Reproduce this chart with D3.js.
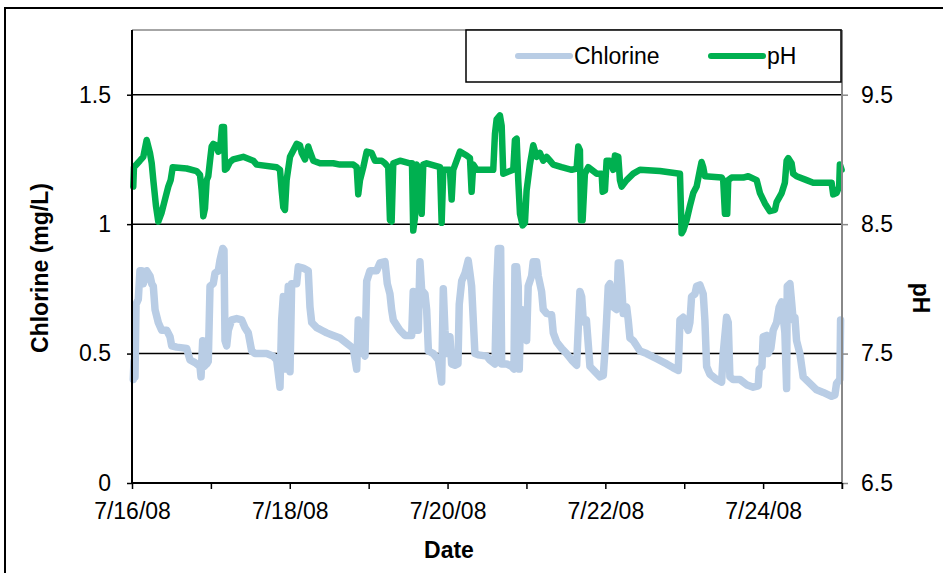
<!DOCTYPE html>
<meta charset="utf-8">
<style>
body { margin: 0; background: #fff; }
text { font-family: "Liberation Sans", Arial, sans-serif; fill: #000; }
</style>
<body>
<script src="https://d3js.org/d3.v7.min.js"></script>
<script>

// readings, days after 7/16/08 00:00
var phDay = [0.016,0.025,0.10,0.143,0.186,0.207,0.228,0.25,0.27,0.304,0.333,0.376,0.418,0.46,0.49,0.516,0.693,0.82,0.862,0.883,0.904,0.925,0.947,0.967,0.989,1.01,1.03,1.065,1.094,1.115,1.14,1.166,1.179,1.20,1.242,1.284,1.41,1.537,1.58,1.834,1.876,1.897,1.918,1.939,1.96,2.003,2.087,2.129,2.151,2.193,2.234,2.256,2.298,2.383,2.551,2.636,2.805,2.848,2.868,2.89,2.932,2.975,3.038,3.08,3.165,3.207,3.248,3.27,3.291,3.312,3.397,3.523,3.549,3.565,3.587,3.609,3.65,3.672,3.692,3.735,3.904,3.925,3.946,4.03,4.052,4.072,4.157,4.242,4.284,4.305,4.326,4.369,4.579,4.601,4.622,4.664,4.686,4.706,4.833,4.854,4.876,4.896,4.918,4.952,4.981,5.002,5.044,5.086,5.129,5.171,5.213,5.256,5.298,5.34,5.446,5.573,5.636,5.657,5.678,5.691,5.712,5.741,5.783,5.89,5.953,5.966,5.995,6.016,6.058,6.1,6.122,6.164,6.185,6.207,6.27,6.354,6.439,6.692,6.946,6.967,6.987,7.03,7.072,7.114,7.157,7.199,7.22,7.241,7.262,7.474,7.494,7.516,7.545,7.558,7.601,7.748,7.811,7.918,7.96,8.023,8.086,8.15,8.171,8.235,8.276,8.298,8.318,8.361,8.381,8.424,8.551,8.635,8.868,8.888,8.931,8.964,8.973,8.995];
var phVal = [8.79,8.94,8.99,9.02,9.15,9.10,9.05,8.97,8.84,8.64,8.52,8.59,8.69,8.79,8.84,8.94,8.93,8.91,8.88,8.76,8.56,8.62,8.84,8.87,8.99,9.10,9.12,9.11,9.06,9.07,9.25,9.25,8.92,8.93,8.98,9.00,9.02,8.99,8.96,8.94,8.92,8.76,8.63,8.61,8.84,9.02,9.12,9.11,9.05,9.00,9.10,9.06,8.99,8.97,8.97,8.96,8.96,8.94,8.73,8.84,8.94,9.06,9.05,8.99,8.99,8.97,8.94,8.53,8.52,8.97,8.99,8.97,8.97,8.45,8.55,8.96,8.92,8.58,8.96,8.97,8.94,8.51,8.92,8.92,8.69,8.92,9.06,9.03,9.01,8.75,8.96,8.92,8.92,9.20,9.31,9.34,9.26,8.89,8.92,9.15,9.16,8.84,8.58,8.49,8.51,8.76,8.96,9.11,9.02,9.05,8.99,9.02,8.99,8.96,8.94,8.92,8.93,9.10,9.07,8.53,8.53,8.89,8.94,8.89,8.89,8.75,8.76,8.99,8.99,8.92,9.03,9.02,8.84,8.79,8.84,8.89,8.92,8.91,8.89,8.43,8.45,8.53,8.64,8.74,8.79,8.92,8.98,8.94,8.87,8.86,8.84,8.58,8.58,8.84,8.86,8.86,8.87,8.84,8.74,8.66,8.60,8.61,8.67,8.74,8.82,8.99,9.01,8.97,8.89,8.87,8.84,8.82,8.82,8.73,8.74,8.79,8.96,8.92];

var clDay = [0.016,0.025,0.038,0.051,0.08,0.101,0.123,0.143,0.186,0.228,0.25,0.27,0.292,0.333,0.376,0.44,0.482,0.503,0.567,0.693,0.735,0.798,0.862,0.875,0.896,0.913,0.947,0.967,0.989,1.03,1.052,1.094,1.115,1.15,1.166,1.179,1.20,1.221,1.264,1.327,1.39,1.432,1.474,1.517,1.559,1.707,1.791,1.834,1.876,1.897,1.918,1.939,1.96,1.981,2.003,2.024,2.087,2.108,2.171,2.234,2.256,2.278,2.341,2.404,2.468,2.551,2.636,2.721,2.805,2.848,2.868,2.89,2.932,2.953,2.975,3.017,3.101,3.143,3.207,3.236,3.27,3.291,3.312,3.375,3.397,3.46,3.545,3.565,3.587,3.629,3.65,3.672,3.714,3.735,3.757,3.82,3.884,3.925,3.946,3.967,3.989,4.03,4.052,4.094,4.132,4.148,4.179,4.221,4.262,4.284,4.305,4.326,4.347,4.389,4.496,4.537,4.601,4.622,4.643,4.673,4.686,4.749,4.813,4.842,4.854,4.876,4.896,4.909,4.924,4.936,4.981,5.002,5.022,5.066,5.086,5.129,5.15,5.192,5.213,5.256,5.319,5.34,5.383,5.446,5.509,5.573,5.636,5.657,5.678,5.70,5.72,5.74,5.76,5.78,5.805,5.868,5.932,5.974,5.995,6.016,6.037,6.058,6.1,6.143,6.164,6.185,6.207,6.227,6.27,6.29,6.312,6.354,6.397,6.439,6.524,6.651,6.777,6.861,6.924,6.946,6.987,7.05,7.072,7.093,7.136,7.157,7.199,7.241,7.262,7.284,7.326,7.41,7.474,7.494,7.537,7.558,7.579,7.62,7.706,7.79,7.875,7.938,7.951,7.985,8.001,8.044,8.064,8.098,8.128,8.171,8.204,8.235,8.255,8.276,8.298,8.306,8.34,8.361,8.381,8.403,8.424,8.466,8.508,8.593,8.677,8.762,8.868,8.91,8.931,8.973,8.982];
var clVal = [0.40,0.47,0.41,0.69,0.71,0.82,0.82,0.77,0.82,0.80,0.77,0.76,0.67,0.62,0.59,0.59,0.565,0.53,0.525,0.52,0.475,0.465,0.45,0.41,0.55,0.45,0.46,0.47,0.76,0.77,0.81,0.82,0.86,0.906,0.90,0.55,0.53,0.59,0.63,0.635,0.63,0.60,0.58,0.51,0.50,0.50,0.49,0.475,0.37,0.63,0.72,0.44,0.63,0.76,0.43,0.77,0.77,0.835,0.83,0.82,0.68,0.62,0.60,0.59,0.58,0.57,0.56,0.54,0.52,0.44,0.63,0.50,0.51,0.49,0.78,0.82,0.82,0.85,0.855,0.77,0.73,0.67,0.63,0.60,0.59,0.57,0.57,0.74,0.59,0.59,0.855,0.745,0.73,0.67,0.51,0.50,0.475,0.39,0.75,0.59,0.50,0.565,0.46,0.455,0.46,0.69,0.78,0.81,0.86,0.81,0.76,0.63,0.50,0.495,0.49,0.475,0.46,0.76,0.906,0.906,0.46,0.46,0.45,0.44,0.835,0.835,0.76,0.44,0.63,0.67,0.565,0.55,0.76,0.80,0.855,0.855,0.80,0.74,0.67,0.655,0.65,0.58,0.545,0.52,0.50,0.475,0.455,0.60,0.74,0.72,0.63,0.62,0.63,0.55,0.45,0.43,0.41,0.415,0.51,0.63,0.76,0.77,0.68,0.67,0.85,0.85,0.76,0.655,0.68,0.63,0.56,0.55,0.53,0.51,0.50,0.48,0.46,0.445,0.435,0.63,0.64,0.59,0.62,0.72,0.73,0.76,0.765,0.73,0.63,0.45,0.42,0.40,0.39,0.50,0.64,0.62,0.41,0.40,0.40,0.38,0.37,0.375,0.44,0.45,0.565,0.57,0.50,0.52,0.59,0.62,0.68,0.70,0.64,0.58,0.365,0.76,0.77,0.70,0.63,0.64,0.55,0.50,0.41,0.385,0.36,0.35,0.335,0.34,0.385,0.40,0.63];

var leftTicks = [0, 0.5, 1, 1.5];
var rightTicks = [6.5, 7.5, 8.5, 9.5];
var seriesNames = ["Chlorine", "pH"];
var seriesColors = ["#b9cde5", "#00b050"];

var W = 943, H = 573;
var margin = {top: 30, right: 101, bottom: 90, left: 132},
    width = 842 - margin.left,
    height = 483 - margin.top;

var t0 = new Date(2008, 6, 16), t1 = new Date(2008, 6, 25);
function toDate(d) { return new Date(t0.getTime() + d * 864e5); }

var x = d3.scaleTime().domain([t0, t1]).range([0, width]);
var y = d3.scaleLinear().domain([0, 1.75]).range([height, 0]);
var y2 = d3.scaleLinear().domain([6.5, 10]).range([height, 0]);

var svg = d3.select("body").append("svg")
    .attr("width", W)
    .attr("height", H);

// outer chart frame
svg.append("rect")
    .attr("x", 5).attr("y", 8)
    .attr("width", W + 20).attr("height", H + 20)
    .attr("fill", "none").attr("stroke", "#000").attr("stroke-width", 2);

var g = svg.append("g")
    .attr("transform", "translate(" + margin.left + "," + margin.top + ")");

// plot area top border
g.append("line")
    .attr("x1", 0).attr("x2", width).attr("y1", 0).attr("y2", 0)
    .attr("stroke", "#888").attr("stroke-width", 1.5);

// gridlines
g.selectAll(".grid").data(leftTicks.slice(1))
  .enter().append("line")
    .attr("class", "grid")
    .attr("x1", 0).attr("x2", width)
    .attr("y1", function(d) { return y(d); })
    .attr("y2", function(d) { return y(d); })
    .attr("stroke", "#000").attr("stroke-width", 1.5);

// series
var clData = clDay.map(function(d, i) { return [toDate(d), clVal[i]]; });
var phData = phDay.map(function(d, i) { return [toDate(d), phVal[i]]; });

g.append("path")
    .datum(clData)
    .attr("fill", "none")
    .attr("stroke", seriesColors[0])
    .attr("stroke-width", 7.5)
    .attr("stroke-linejoin", "round")
    .attr("stroke-linecap", "round")
    .attr("d", d3.line().x(function(d) { return x(d[0]); }).y(function(d) { return y(d[1]); }));

g.append("path")
    .datum(phData)
    .attr("fill", "none")
    .attr("stroke", seriesColors[1])
    .attr("stroke-width", 6.5)
    .attr("stroke-linejoin", "round")
    .attr("stroke-linecap", "round")
    .attr("d", d3.line().x(function(d) { return x(d[0]); }).y(function(d) { return y2(d[1]); }));

// left axis
var yAxis = g.append("g")
    .call(d3.axisLeft(y).tickValues(leftTicks).tickSize(5).tickPadding(16).tickFormat(d3.format("")));
yAxis.select(".domain").remove();
yAxis.selectAll(".tick line").attr("stroke", "#000").attr("stroke-width", 1.5);
yAxis.selectAll("text").style("font-size", "23px");
g.append("line")
    .attr("x1", 0).attr("x2", 0).attr("y1", 0).attr("y2", height)
    .attr("stroke", "#000").attr("stroke-width", 2);

// right axis
var y2Axis = g.append("g")
    .attr("transform", "translate(" + width + ",0)")
    .call(d3.axisRight(y2).tickValues(rightTicks).tickSize(6).tickPadding(13).tickFormat(d3.format(".1f")));
y2Axis.select(".domain").remove();
y2Axis.selectAll(".tick line").attr("stroke", "#888").attr("stroke-width", 1.5);
y2Axis.selectAll("text").style("font-size", "23px");
g.append("line")
    .attr("x1", width).attr("x2", width).attr("y1", 0).attr("y2", height + 6)
    .attr("stroke", "#888").attr("stroke-width", 2);

// x axis
var fmt = d3.timeFormat("%-m/%-d/%y");
var xAxis = g.append("g")
    .attr("transform", "translate(0," + height + ")")
    .call(d3.axisBottom(x).ticks(d3.timeDay.every(1)).tickSize(6).tickPadding(14)
      .tickFormat(function(d, i) { return i % 2 === 0 ? fmt(d) : ""; }));
xAxis.select(".domain").remove();
xAxis.selectAll(".tick line").attr("stroke", "#000").attr("stroke-width", 1.5);
xAxis.selectAll("text").style("font-size", "23px");
g.append("line")
    .attr("x1", 0).attr("x2", width).attr("y1", height).attr("y2", height)
    .attr("stroke", "#000").attr("stroke-width", 2);

// axis titles
svg.append("text")
    .attr("x", 449).attr("y", 558)
    .attr("text-anchor", "middle")
    .style("font-size", "23px").style("font-weight", "bold")
    .text("Date");

svg.append("text")
    .attr("transform", "translate(48,268) rotate(-90)")
    .attr("text-anchor", "middle")
    .style("font-size", "23px").style("font-weight", "bold")
    .text("Chlorine (mg/L)");

svg.append("text")
    .attr("transform", "translate(913,298) rotate(90)")
    .attr("text-anchor", "middle")
    .style("font-size", "23px").style("font-weight", "bold")
    .text("pH");

// legend
var legend = svg.append("g");
legend.append("rect")
    .attr("x", 466).attr("y", 30).attr("width", 375).attr("height", 52)
    .attr("fill", "#fff").attr("stroke", "#000").attr("stroke-width", 1.5);

var legX = [518, 711];
var item = legend.selectAll(".item").data(seriesNames)
  .enter().append("g")
    .attr("class", "item")
    .attr("transform", function(d, i) { return "translate(" + legX[i] + ",56)"; });
item.append("line")
    .attr("x1", 0).attr("x2", 52).attr("y1", 0).attr("y2", 0)
    .attr("stroke", function(d, i) { return seriesColors[i]; })
    .attr("stroke-width", 6).attr("stroke-linecap", "round");
item.append("text")
    .attr("x", 56).attr("dy", "0.35em")
    .style("font-size", "23px")
    .text(function(d) { return d; });

</script>
</body>
